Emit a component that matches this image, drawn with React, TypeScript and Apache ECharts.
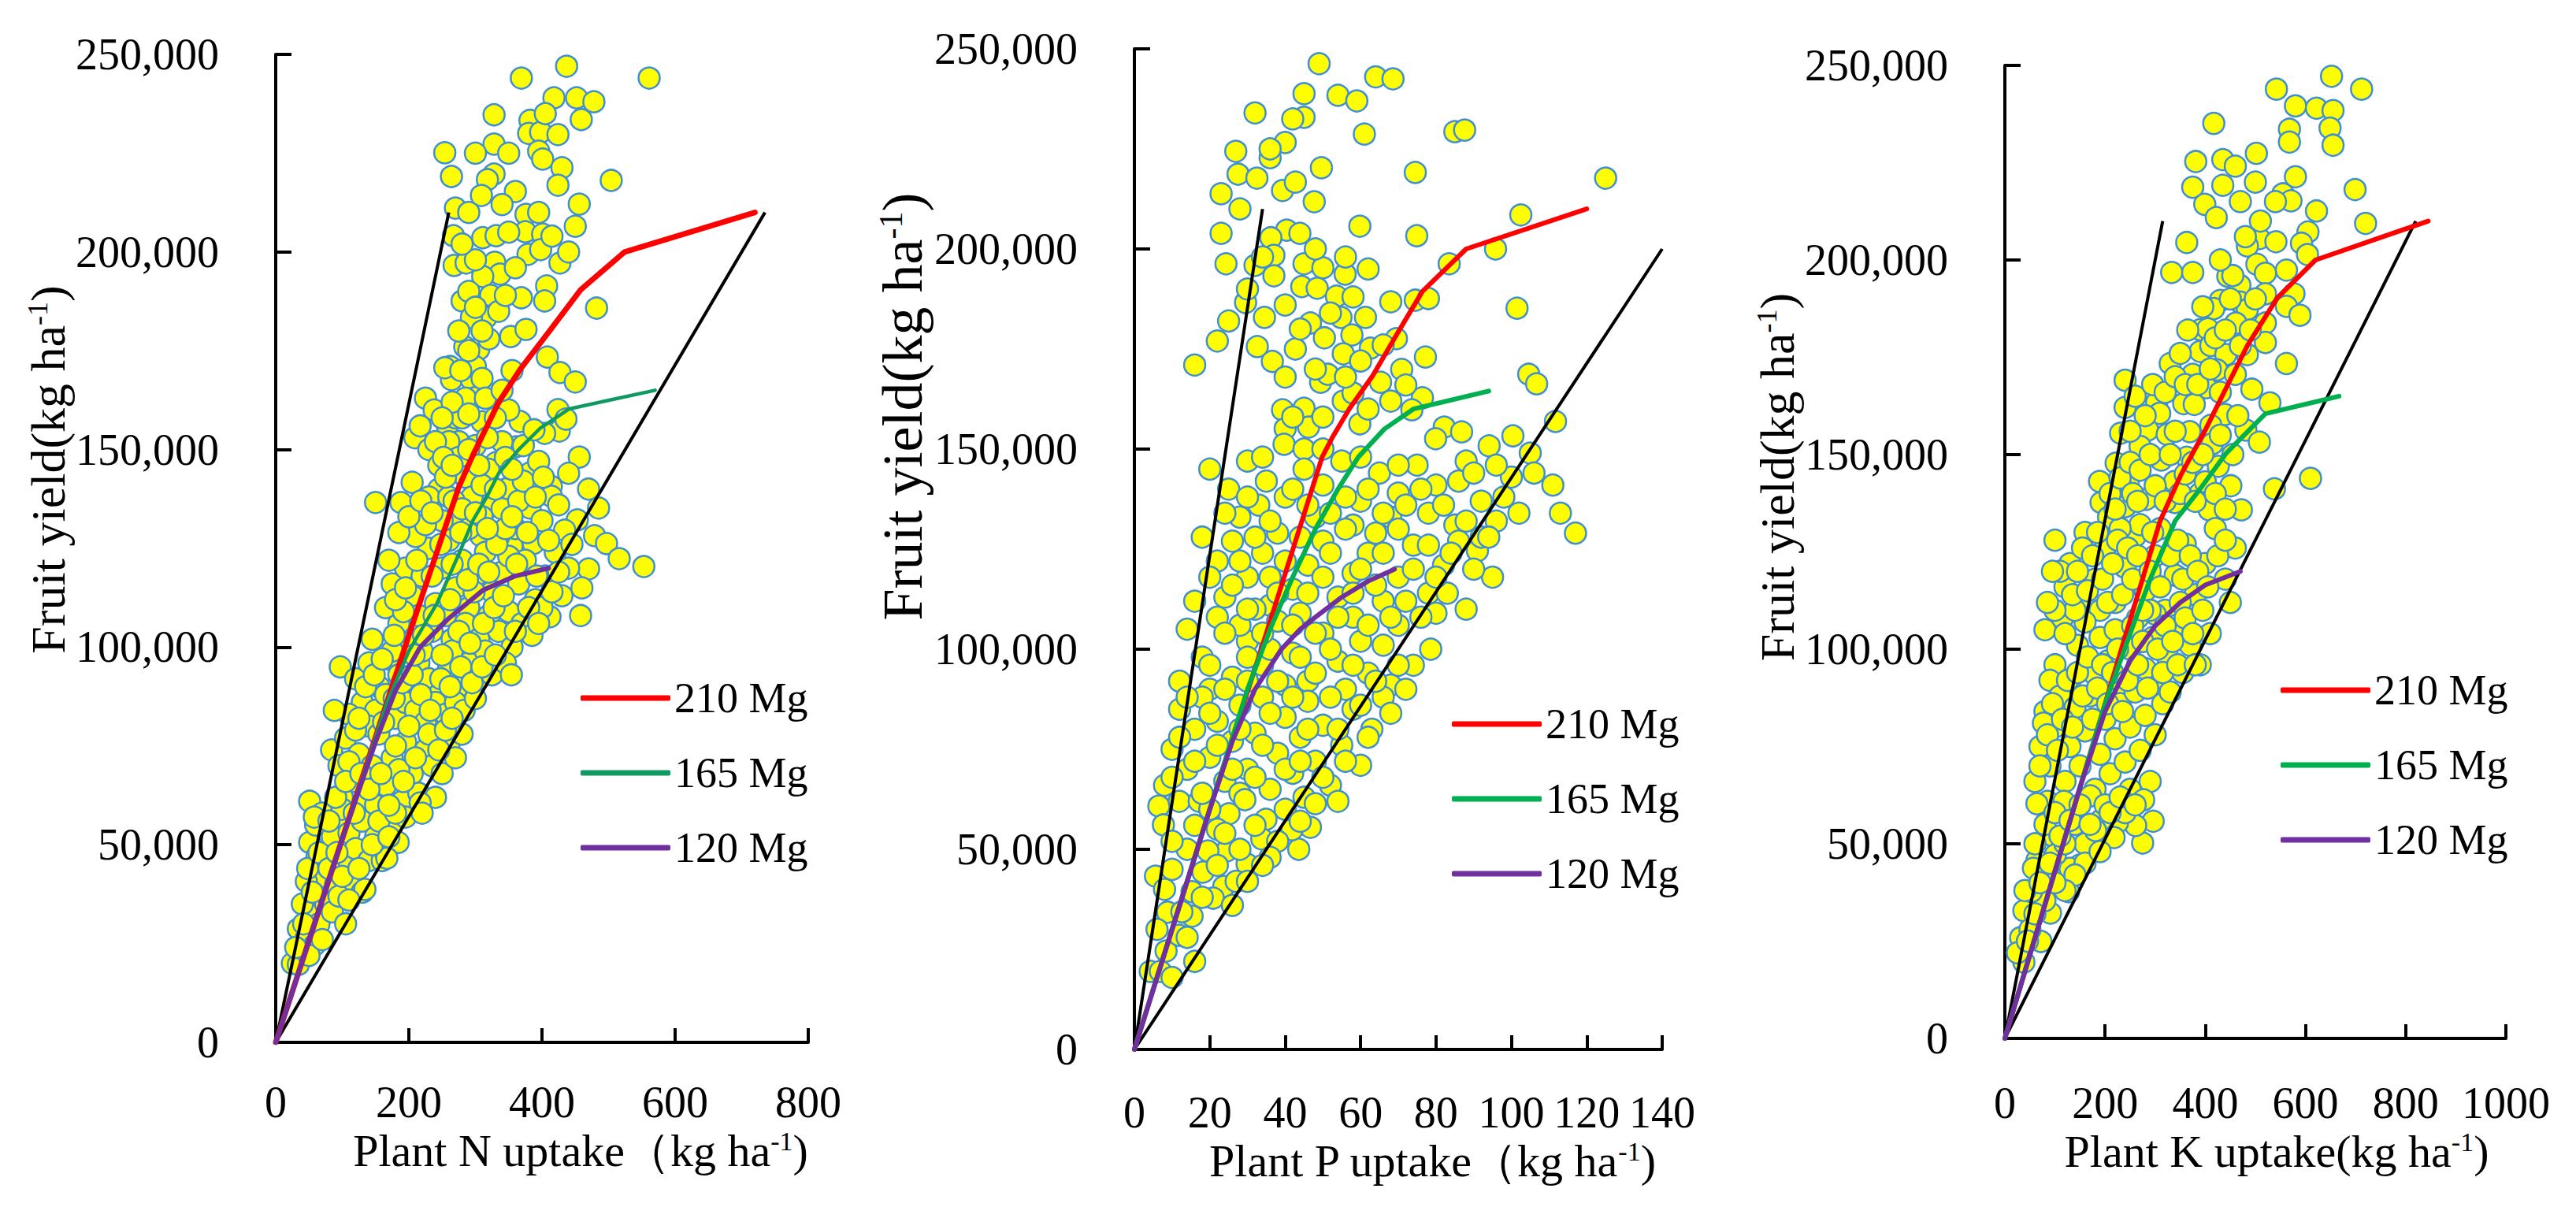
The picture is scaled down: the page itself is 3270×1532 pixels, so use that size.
import React, { useEffect, useRef } from 'react';
import * as echarts from 'echarts';

const FONT = "'Liberation Serif', 'Times New Roman', serif";

// ---------- axis ranges ----------
const yieldRange = { min: 0, max: 250000, interval: 50000 };
const nRange = { min: 0, max: 800, interval: 200 };
const pRange = { min: 0, max: 140, interval: 20 };
const kRange = { min: 0, max: 1000, interval: 200 };

const legendNames = ['210 Mg', '165 Mg', '120 Mg'];

// ---------- Panel 1: plant N uptake vs fruit yield ----------
const nScatter: [number, number][] = [
  [437, 247000], [369, 244000], [561, 244000], [418, 239000], [452, 239000], [478, 238000], [459, 233500], [328, 234700],
  [382, 233300], [380, 230000], [398, 230300], [424, 229700], [328, 227300], [395, 225500], [401, 223500], [430, 221300],
  [254, 225100], [264, 219100], [328, 219700], [318, 218300], [360, 215300], [424, 216900], [504, 218100], [309, 214300],
  [456, 212100], [270, 211100], [376, 209500], [450, 206500], [267, 204100], [311, 203600], [331, 204100], [375, 205100],
  [401, 204500], [379, 199400], [398, 200600], [427, 197200], [268, 196600], [286, 197200], [329, 197400], [337, 194400],
  [311, 193800], [482, 185800], [280, 187600], [323, 189000], [369, 188400], [407, 191400], [404, 187600], [316, 183400],
  [294, 183400], [353, 178600], [376, 180400], [284, 176000], [305, 175400], [408, 173400], [427, 169500], [450, 167100],
  [262, 171000], [264, 167700], [294, 167700], [254, 170700], [325, 162700], [299, 163100], [424, 160100], [426, 154700],
  [404, 154100], [436, 157700], [367, 157100], [225, 163000], [238, 160000], [209, 153000], [217, 156000], [258, 156000],
  [456, 148100], [361, 150700], [331, 146700], [382, 144100], [414, 140700], [347, 140100], [205, 141700], [485, 135200],
  [382, 135200], [414, 138200], [323, 135600], [453, 132200], [434, 129600], [479, 128200], [497, 126200], [355, 125600],
  [387, 126200], [308, 128200], [516, 122400], [553, 120400], [470, 119800], [458, 108000], [412, 107700], [150, 136600],
  [188, 136600], [275, 180000], [290, 190000], [300, 171000], [270, 158000], [285, 163000], [310, 168000], [320, 178000],
  [275, 152000], [230, 150000], [245, 146000], [260, 152000], [275, 148000], [285, 143000], [300, 151000], [310, 157000],
  [320, 145000], [340, 152000], [350, 160000], [280, 158000], [265, 162000], [245, 140000], [230, 138000], [260, 138000],
  [295, 138000], [310, 141000], [340, 135000], [365, 137000], [395, 147000], [400, 132000], [360, 130000], [335, 128000],
  [270, 131000], [250, 132000],
  [175, 116000], [195, 120000], [205, 113000], [220, 118000], [230, 125000], [240, 111000], [250, 120000], [260, 127000],
  [270, 115000], [280, 122000], [290, 110000], [300, 118000], [315, 124000], [325, 114000], [340, 119000], [350, 109000],
  [365, 116000], [375, 122000], [390, 112000], [405, 118000], [420, 124000], [430, 113000], [440, 120000], [185, 106000],
  [200, 101000], [215, 108000], [235, 104000], [255, 108000], [265, 102000], [285, 106000], [305, 102000], [320, 108000],
  [335, 104000], [355, 100000], [370, 106000], [385, 103000], [400, 110000], [165, 110000], [170, 122000], [210, 128000],
  [225, 131000], [290, 130000], [310, 133000], [185, 129000], [350, 123000],
  [97, 95000], [120, 92000], [140, 96000], [155, 90000], [170, 97000], [185, 93000], [200, 90000], [215, 96000],
  [230, 92000], [245, 88000], [260, 95000], [275, 90000], [290, 96000], [305, 92000], [325, 93000], [345, 96000],
  [354, 93000], [130, 86000], [150, 84000], [165, 88000], [180, 82000], [195, 86000], [210, 84000], [225, 81000],
  [240, 86000], [255, 83000], [270, 86000], [283, 84000], [300, 87000], [110, 83000], [88, 84000], [140, 80000],
  [175, 99000], [220, 99000], [265, 99000], [315, 99000],
  [84, 74000], [95, 70000], [105, 77000], [115, 66000], [125, 73000], [135, 62000], [145, 70000], [155, 78000],
  [165, 65000], [175, 72000], [190, 61000], [195, 76000], [205, 68000], [215, 63000], [225, 74000], [235, 70000],
  [250, 68000], [260, 75000], [270, 72000], [280, 78000], [100, 62000], [110, 71000], [150, 60000], [185, 69000],
  [240, 62000], [120, 79000], [230, 78000], [200, 80000],
  [51, 61000], [51, 50600], [60, 55000], [70, 58000], [75, 48000], [85, 52000], [95, 57000], [105, 45000],
  [110, 53000], [120, 49000], [130, 56000], [140, 46000], [150, 52000], [160, 46000], [165, 48000], [175, 55000],
  [184, 50600], [195, 57000], [70, 42000], [90, 40000], [115, 41000], [130, 38000], [134, 38700], [167, 46600],
  [62, 47000], [100, 59000], [217, 60600],
  [25, 20000], [34, 19700], [34, 28700], [46, 40700], [45, 26000], [59, 24700], [55, 32000], [65, 30000],
  [75, 35000], [85, 33000], [95, 37000], [40, 35000], [50, 22000], [110, 36000], [70, 26000], [105, 30000],
  [30, 24000], [42, 30000], [55, 38000], [48, 44000], [65, 48000], [80, 44000], [92, 48000], [100, 42000],
  [125, 44000], [145, 50000], [155, 56000], [170, 52000], [180, 58000], [58, 57000], [80, 56000], [90, 62000],
  [105, 66000], [118, 58000], [128, 68000], [140, 64000], [158, 68000], [170, 60000], [180, 75000], [192, 66000],
  [210, 72000], [220, 58000], [245, 74000], [255, 79000], [265, 82000], [125, 82000], [135, 90000], [148, 93000],
  [162, 81000], [178, 87000], [190, 91000], [205, 93000], [218, 88000], [232, 84000], [248, 92000], [262, 90000],
  [278, 95000], [295, 91000], [310, 95000], [330, 98000], [145, 102000], [160, 97000], [178, 103000], [192, 109000],
  [208, 98000], [222, 103000], [238, 108000], [250, 98000], [262, 112000], [275, 104000], [292, 101000], [298, 114000],
  [312, 106000], [328, 110000], [342, 113000], [360, 104000], [380, 110000], [395, 106000], [415, 114000], [180, 112000],
  [195, 115000], [212, 122000], [235, 118000], [248, 126000], [265, 121000], [278, 129000], [288, 117000], [305, 121000],
  [320, 119000], [332, 126000], [345, 130000], [362, 121000], [378, 129000], [392, 118000], [410, 127000], [425, 119000],
  [445, 126000], [460, 115000], [200, 133000], [218, 137000], [235, 134000], [255, 143000], [268, 137000], [280, 135000],
  [300, 134000], [318, 130000], [330, 140000], [355, 133000], [372, 142000], [390, 138000], [402, 143000], [425, 136000],
  [440, 144000], [470, 140000], [240, 152000], [252, 148000], [265, 146000], [290, 150000], [305, 146000], [318, 153000],
  [330, 158000], [345, 148000], [355, 145000], [372, 151000], [388, 155000], [250, 158000], [290, 159000], [315, 163000],
  [340, 165000], [355, 170000], [278, 170000], [290, 175000], [310, 180000], [335, 185000], [300, 186000], [345, 189000],
  [360, 196000], [300, 198000], [280, 202000], [350, 205000], [290, 210000], [340, 212000], [395, 210000], [415, 204000],
  [440, 200000], [350, 225000], [300, 225000], [405, 235000],
];
const nUpper: [number, number][] = [[0, 0], [260, 210000]];
const nLower: [number, number][] = [[0, 0], [735, 210000]];
const n210: [number, number][] = [[0, 0], [100, 51500], [200, 103000], [250, 128000], [275, 140500], [296, 148500], [335, 162000], [369, 170700], [414, 180600], [458, 190400], [524, 200000], [720, 210000]];
const n165: [number, number][] = [[0, 0], [100, 51500], [167, 86000], [200, 99000], [242, 111000], [275, 123500], [296, 132000], [317, 138000], [335, 144000], [365, 150000], [398, 155500], [441, 160300], [570, 165000]];
const n120: [number, number][] = [[0, 0], [100, 51500], [150, 76000], [180, 89000], [217, 100000], [258, 107000], [312, 114500], [360, 118000], [410, 120000]];

// ---------- Panel 2: plant P uptake vs fruit yield ----------
const pScatter: [number, number][] = [
  [49, 246300], [64, 243000], [68.6, 242500], [45, 238800], [54, 238400], [59, 237000], [32, 234000], [45, 232900],
  [42, 232500], [61, 228700], [85, 229300], [87.6, 229700], [26.9, 224400], [40, 226600], [36, 222800], [36, 225000],
  [27.5, 218700], [32.5, 217700], [49.6, 220300], [74.5, 219100], [125, 217700], [23, 213800], [39.3, 214600], [42.7, 216700],
  [47.7, 211800], [28, 210000], [102.5, 208500], [59.8, 205700], [74.9, 203300], [40.4, 204700], [43.9, 203900], [36.2, 202800],
  [23, 203900], [37, 198400], [24.3, 196300], [32, 195900], [45, 196300], [50, 195300], [55.9, 193700], [83.5, 196300],
  [95.8, 200000], [37, 193300], [44.4, 190600], [48.5, 190200], [53.6, 188200], [29.5, 186600], [34.5, 182900], [46.7, 181500],
  [50.4, 177800], [54.8, 182900], [57.7, 178500], [61.3, 182900], [68, 186800], [74.5, 187200], [78, 187600], [101.5, 185200],
  [32.6, 175600], [36.6, 171900], [42.7, 175000], [55.4, 173800], [62.6, 175200], [69.5, 177600], [77.2, 173000], [70.9, 169900],
  [65.3, 166700], [49.4, 166700], [51.3, 168700], [39.3, 159800], [45, 160200], [55.4, 162000], [76.4, 162800], [73.6, 159800],
  [104.6, 168700], [106.7, 166300], [111.7, 156900], [40, 155100], [46.2, 155500], [59.8, 156300], [82.2, 155500], [86.8, 154300],
  [79.9, 152600], [100.4, 153300], [94.1, 150800], [39.7, 151200], [45, 150000], [22, 177000], [16, 171000], [25, 182000],
  [20, 145000], [25, 140000], [30, 147000], [35, 142000], [40, 138000], [45, 145000], [50, 141000], [55, 147000],
  [60, 137000], [65, 144000], [70, 139000], [75, 146000], [80, 141000], [88, 147000], [92, 137000], [100, 143000],
  [105, 149000], [111, 141000], [113, 134000], [117, 129000], [28, 133000], [33, 136000], [48, 133000], [58, 131000],
  [68, 133000], [78, 134000], [85, 131000], [96, 132000],
  [18, 128000], [22, 122000], [26, 127000], [30, 118000], [34, 124000], [38, 129000], [42, 115000], [46, 121000],
  [50, 127000], [54, 113000], [58, 119000], [62, 124000], [66, 112000], [70, 118000], [74, 126000], [78, 114000],
  [82, 121000], [86, 127000], [91, 124600], [83, 114000], [95, 118000], [92, 128000], [88, 110000], [24, 113000],
  [36, 111000], [64, 129000],
  [14, 105000], [18, 98000], [22, 108000], [26, 93000], [30, 102000], [34, 96000], [38, 107000], [42, 99000],
  [46, 92000], [50, 104000], [54, 97000], [58, 108000], [62, 94000], [66, 101000], [70, 106000], [74, 96000],
  [78.6, 100000], [80, 109000], [12, 92000], [20, 90000], [32, 110000], [44, 109000], [56, 90000], [68, 91000],
  [40, 91000], [28, 106000],
  [8, 66000], [10, 75000], [12, 85000], [14, 70000], [16, 80000], [18, 88000], [20, 73000], [22, 82000],
  [24, 67000], [26, 77000], [28, 86000], [30, 70000], [32, 79000], [34, 88000], [36, 65000], [38, 74000],
  [40, 83000], [42, 69000], [44, 78000], [46, 87000], [48, 72000], [50, 81000], [52, 66000], [55, 76000],
  [58, 85000], [60, 71000], [63, 80000], [66, 88000], [54, 62000], [6.5, 60800], [28, 64000], [45, 63000],
  [48, 61400], [46.7, 55500], [43.6, 50000], [41.8, 54900], [34.9, 57500], [33.8, 52600], [29.3, 62400], [25.1, 58900],
  [24.5, 49600], [23.7, 40700], [29.9, 46300], [18.2, 44300], [15.3, 39400], [15.3, 33300], [8.8, 34300], [5.6, 43300],
  [7.7, 56100], [11.9, 62000], [17.2, 62000], [4.2, 19500], [6.9, 19500], [8.4, 24600], [11.9, 28500], [12.6, 34400],
  [20.9, 37800], [19.5, 49600], [38, 52000], [22, 55000], [14, 50000], [10, 45000], [27, 42000],
  [10, 52000], [16, 56000], [20, 60000], [24, 54000], [28, 50000], [32, 56000], [36, 48000], [40, 60000],
  [44, 57000], [18, 38000], [22, 46000], [26, 36000], [30, 42000], [34, 46000], [14, 28000], [8, 40000],
  [6, 30000], [16, 22000], [10, 18000],
  [10, 68000], [12, 78000], [16, 72000], [18, 64000], [20, 84000], [22, 76000], [24, 90000], [26, 70000],
  [28, 80000], [30, 92000], [32, 68000], [34, 76000], [36, 84000], [38, 92000], [40, 70000], [42, 88000],
  [44, 72000], [46, 80000], [48, 94000], [50, 68000], [52, 88000], [54, 80000], [56, 72000], [58, 96000],
  [60, 86000], [62, 78000], [64, 92000], [68, 84000], [70, 96000], [72, 90000], [30, 98000], [20, 96000],
  [14, 88000], [36, 100000], [44, 98000], [52, 100000], [60, 102000],
  [16, 112000], [20, 118000], [24, 104000], [26, 116000], [28, 122000], [30, 110000], [32, 128000], [34, 104000],
  [36, 118000], [38, 114000], [40, 122000], [42, 106000], [44, 128000], [46, 114000], [48, 104000], [50, 118000],
  [52, 124000], [54, 108000], [56, 130000], [58, 114000], [60, 120000], [62, 106000], [64, 116000], [66, 124000],
  [68, 108000], [70, 130000], [72, 112000], [74, 120000], [76, 108000], [78, 126000], [80, 118000], [84, 124000],
  [88, 132000], [90, 120000], [94, 128000], [98, 138000], [102, 134000], [106, 144000], [24, 134000], [30, 138000],
  [36, 132000], [42, 140000], [46, 136000], [52, 134000], [56, 138000], [62, 140000], [66, 134000], [72, 136000],
  [76, 140000], [82, 136000], [86, 142000], [90, 144000], [96, 146000], [34, 148000], [50, 150000], [60, 148000],
  [70, 146000],
  [42, 158000], [50, 158000], [58, 164000], [62, 160000], [68, 162000], [72, 166000], [48, 170000], [56, 168000],
  [60, 172000], [66, 176000], [40, 168000], [44, 180000], [52, 184000], [58, 188000], [40, 186000], [48, 200000],
  [56, 198000], [30, 190000], [34, 198000], [62, 195000],
];
const pUpper: [number, number][] = [[0, 0], [34, 210000]];
const pLower: [number, number][] = [[0, 0], [140, 200000]];
const p210: [number, number][] = [[0, 0], [20, 60000], [35, 104000], [49.8, 148000], [52.5, 152900], [57.1, 160200], [63.2, 168300], [69.5, 178500], [76.4, 189400], [88, 200000], [120, 210000]];
const p165: [number, number][] = [[0, 0], [20, 60000], [30, 90000], [36, 105000], [42, 118000], [48, 130000], [54, 140000], [59.4, 148000], [66.3, 155000], [74, 160000], [94, 164500]];
const p120: [number, number][] = [[0, 0], [20, 60000], [26, 77000], [32, 90000], [39, 100000], [44, 105000], [48, 108000], [55, 113000], [62, 117000], [69, 120000]];

// ---------- Panel 3: plant K uptake vs fruit yield ----------
const kScatter: [number, number][] = [
  [652, 247200], [542, 243900], [712, 243900], [580, 239600], [622, 239000], [655, 238400], [417, 235100], [568, 233600],
  [649, 233900], [568, 230300], [655, 229500], [502, 227400], [381, 225300], [435, 225800], [460, 224100], [375, 218700],
  [435, 219200], [580, 221400], [699, 218100], [555, 217000], [571, 215200], [399, 214300], [422, 210900], [622, 212600],
  [720, 209400], [605, 207200], [363, 204500], [508, 205500], [541, 204700], [484, 203600], [592, 204300], [604, 201400],
  [503, 198900], [333, 196800], [375, 196800], [445, 195800], [562, 197400], [520, 196600], [469, 193500], [520, 191300],
  [577, 191300], [562, 188100], [430, 189600], [417, 187500], [469, 189200], [484, 187300], [589, 185800], [461, 183800],
  [520, 183800], [390, 182100], [405, 182300], [520, 178800], [390, 176500], [411, 178000], [441, 175700], [484, 175700],
  [330, 173400], [562, 173400], [375, 170600], [423, 171800], [460, 170600], [493, 166800], [402, 167200], [430, 166000],
  [240, 169100], [529, 163300], [240, 162100], [303, 163300], [357, 163100], [378, 162900], [309, 160600], [439, 160300],
  [411, 157500], [481, 156300], [231, 155500], [285, 156300], [324, 155200], [369, 155900], [270, 152100], [414, 152800],
  [508, 153200], [222, 147800], [312, 148600], [363, 149300], [426, 147000], [189, 143100], [246, 142800], [339, 143100],
  [390, 140100], [451, 142000], [538, 141200], [610, 143900], [192, 137700], [240, 136600], [282, 138500], [339, 137700],
  [408, 135800], [472, 135800], [207, 133900],
  [100, 128000], [130, 122000], [160, 130000], [180, 118000], [200, 126000], [220, 112000], [240, 121000], [260, 129000],
  [280, 115000], [300, 124000], [320, 110000], [340, 119000], [360, 127000], [380, 114000], [400, 122000], [420, 131000],
  [440, 118000], [460, 126000], [150, 113000], [270, 132000], [310, 131000], [350, 112000], [230, 131000], [190, 110000],
  [120, 116000],
  [80, 105000], [100, 96000], [115, 108000], [130, 92000], [145, 101000], [160, 107000], [175, 94000], [190, 103000],
  [205, 97000], [220, 105000], [235, 91000], [250, 100000], [265, 108000], [280, 95000], [295, 103000], [310, 91000],
  [325, 98000], [340, 106000], [355, 94000], [370, 101000], [390, 96000], [410, 104000], [90, 92000], [140, 110000],
  [300, 109000],
  [60, 66000], [70, 75000], [80, 84000], [90, 70000], [100, 80000], [110, 88000], [120, 66000], [130, 75000],
  [140, 85000], [150, 70000], [160, 79000], [170, 88000], [180, 64000], [190, 73000], [200, 82000], [210, 68000],
  [220, 77000], [230, 86000], [240, 71000], [250, 80000], [260, 89000], [270, 74000], [280, 83000], [300, 78000],
  [315, 86000], [330, 89000], [290, 66000], [250, 64000], [77, 81000],
  [277, 61300], [296, 55800], [275, 50200], [261, 54700], [225, 55500], [218, 51600], [160, 50000], [149, 44500],
  [112, 41700], [64, 45700], [57, 43700], [91, 32200], [38, 32800], [31.5, 25900], [72, 24900], [38, 19600],
  [127, 37700], [130, 43700], [192, 56100], [85, 60900], [64, 60300], [118, 60900], [171, 62300], [181, 53400],
  [96, 52000], [80, 35400], [53, 37700], [101, 47200], [140, 55000], [200, 60000], [240, 58000], [120, 50000],
  [50, 28000], [25, 22000],
  [40, 38000], [60, 50000], [80, 55000], [100, 58000], [110, 52000], [130, 56000], [150, 60000], [160, 45000],
  [170, 55000], [140, 42000], [120, 38000], [100, 40000], [90, 45000], [70, 40000], [60, 32000], [45, 25000],
  [190, 48000], [210, 58000], [230, 62000], [260, 60000],
  [70, 70000], [85, 78000], [95, 86000], [105, 74000], [115, 82000], [125, 92000], [135, 80000], [145, 94000],
  [155, 88000], [165, 98000], [175, 82000], [185, 90000], [195, 96000], [205, 86000], [215, 94000], [225, 100000],
  [235, 84000], [245, 92000], [255, 106000], [265, 96000], [275, 102000], [285, 90000], [290, 110000], [305, 100000],
  [315, 94000], [320, 106000], [335, 102000], [345, 96000], [360, 108000], [375, 104000], [380, 96000], [395, 110000],
  [100, 110000], [110, 120000], [120, 104000], [135, 114000], [145, 120000], [155, 126000], [165, 115000], [175, 124000],
  [185, 130000], [195, 118000], [205, 112000], [215, 122000], [225, 128000], [235, 114000], [245, 126000], [255, 118000],
  [265, 124000], [275, 110000], [290, 120000], [295, 130000], [310, 116000], [330, 124000], [345, 128000], [355, 118000],
  [370, 124000], [385, 120000], [405, 116000], [425, 124000], [440, 128000], [450, 112000], [95, 120000], [85, 112000],
  [210, 140000], [220, 136000], [230, 144000], [250, 148000], [255, 140000], [265, 138000], [270, 146000], [290, 150000],
  [300, 142000], [320, 138000], [330, 150000], [340, 156000], [350, 140000], [360, 145000], [375, 148000], [380, 138000],
  [395, 150000], [400, 143000], [420, 140000], [430, 155000], [440, 136000], [455, 150000], [465, 160000], [250, 156000],
  [260, 165000], [280, 160000], [295, 168000], [320, 166000], [340, 170000], [350, 176000], [360, 168000], [365, 182000],
  [385, 168000], [395, 188000], [410, 172000], [420, 180000], [440, 182000], [450, 190000], [470, 178000], [490, 182000],
  [500, 190000], [455, 196000], [430, 200000], [480, 206000], [510, 210000], [540, 215000], [470, 215000], [500, 220000],
];
const kUpper: [number, number][] = [[0, 0], [315, 210000]];
const kLower: [number, number][] = [[0, 0], [820, 210000]];
const k210: [number, number][] = [[0, 0], [150, 64500], [250, 107500], [310, 133000], [351, 144700], [400, 156300], [442, 167200], [484, 178000], [544, 190300], [620, 200000], [845, 210000]];
const k165: [number, number][] = [[0, 0], [150, 64500], [200, 86000], [250, 104000], [290, 118000], [340, 133000], [387, 140700], [442, 150400], [520, 160500], [667, 165000]];
const k120: [number, number][] = [[0, 0], [150, 64500], [200, 84000], [250, 97000], [300, 106000], [350, 112000], [400, 116500], [470, 120000]];

// ---------- layout & style ----------
const panels = [
  {
    grid: { left: 350, top: 69, width: 676, height: 1254 },
    range: nRange,
    xTitle: '{t|Plant N uptake（kg ha}{s|-1}{t|)}',
    xShift: 98, xGap: 108, xLabelMargin: 48,
    yGap: 232, yShift: 200, yFont: 62,
    legend: { left: 732, top: 851 },
    scatter: nScatter, upper: nUpper, lower: nLower,
    curves: [n210, n165, n120],
    widths: [7, 4.5, 6],
    colors: ['#FF0000', '#109A62', '#7030A0'],
    name: 'N',
  },
  {
    grid: { left: 1440, top: 62, width: 670, height: 1270 },
    range: pRange,
    xTitle: '{t|Plant P uptake（kg ha}{s|-1}{t|)}',
    xShift: 86, xGap: 100, xLabelMargin: 52,
    yGap: 226, yShift: 362, yFont: 72,
    legend: { left: 1838, top: 884 },
    scatter: pScatter, upper: pUpper, lower: pLower,
    curves: [p210, p165, p120],
    widths: [6, 6, 6],
    colors: ['#FF0000', '#00B050', '#7030A0'],
    name: 'P',
  },
  {
    grid: { left: 2545, top: 83, width: 636, height: 1235 },
    range: kRange,
    xTitle: '{t|Plant K uptake(kg ha}{s|-1}{t|)}',
    xShift: 54, xGap: 114, xLabelMargin: 54,
    yGap: 246, yShift: 190, yFont: 62,
    legend: { left: 2890, top: 841 },
    scatter: kScatter, upper: kUpper, lower: kLower,
    curves: [k210, k165, k120],
    widths: [6, 6, 6],
    colors: ['#FF0000', '#00B050', '#7030A0'],
    name: 'K',
  },
];

function richStyle(size: number) {
  return {
    t: { fontFamily: FONT, fontSize: size, color: '#000' },
    s: { fontFamily: FONT, fontSize: Math.round(size * 0.58), color: '#000', verticalAlign: 'top' },
  };
}

function buildOption() {
  const axisLineStyle = { color: '#000', width: 4 };
  const grid = panels.map((p) => ({ ...p.grid, containLabel: false }));
  const xAxis = panels.map((p, i) => ({
    type: 'value',
    gridIndex: i,
    min: p.range.min,
    max: p.range.max,
    interval: p.range.interval,
    name: p.xTitle,
    nameLocation: 'middle',
    nameGap: p.xGap,
    nameTextStyle: { fontFamily: FONT, fontSize: 58, color: '#000', padding: [0, 0, 0, p.xShift], rich: richStyle(58) },
    axisLine: { show: true, lineStyle: axisLineStyle },
    axisTick: { show: true, inside: true, length: 18, lineStyle: axisLineStyle },
    axisLabel: { show: true, margin: p.xLabelMargin, fontFamily: FONT, fontSize: 56, color: '#000', formatter: (v: number) => String(v) },
    splitLine: { show: false },
  }));
  const yAxis = panels.map((p, i) => ({
    type: 'value',
    gridIndex: i,
    min: yieldRange.min,
    max: yieldRange.max,
    interval: yieldRange.interval,
    name: '{t|Fruit yield(kg ha}{s|-1}{t|)}',
    nameLocation: 'middle',
    nameRotate: 90,
    nameGap: p.yGap,
    nameTextStyle: { fontFamily: FONT, fontSize: p.yFont, color: '#000', padding: [0, 0, 0, p.yShift], rich: richStyle(p.yFont) },
    axisLine: { show: true, lineStyle: axisLineStyle },
    axisTick: { show: true, inside: true, length: 20, lineStyle: axisLineStyle },
    axisLabel: { show: true, margin: 72, fontFamily: FONT, fontSize: 56, color: '#000', formatter: (v: number) => v.toLocaleString('en-US') },
    splitLine: { show: false },
  }));

  const series: any[] = [];
  panels.forEach((p, i) => {
    series.push({
      type: 'scatter',
      name: `Observed ${p.name}`,
      xAxisIndex: i,
      yAxisIndex: i,
      data: p.scatter,
      symbol: 'circle',
      symbolSize: 27,
      itemStyle: { color: '#FFFF00', borderColor: '#3F8FD2', borderWidth: 2.5, opacity: 1 },
      silent: true,
      z: 2,
    });
    [p.upper, p.lower].forEach((b, j) => {
      series.push({
        type: 'line',
        name: `${p.name} boundary ${j === 0 ? 'upper' : 'lower'}`,
        xAxisIndex: i,
        yAxisIndex: i,
        data: b,
        symbol: 'none',
        lineStyle: { color: '#000', width: 4 },
        itemStyle: { color: '#000' },
        silent: true,
        z: 3,
      });
    });
    p.curves.forEach((c, j) => {
      series.push({
        type: 'line',
        name: legendNames[j],
        xAxisIndex: i,
        yAxisIndex: i,
        data: c,
        symbol: 'none',
        color: p.colors[j],
        lineStyle: { color: p.colors[j], width: p.widths[j], cap: 'round', join: 'round' },
        itemStyle: { color: p.colors[j] },
        silent: true,
        z: 4,
      });
    });
  });

  const legend = panels.map((p) => ({
    ...p.legend,
    orient: 'vertical',
    icon: 'roundRect',
    itemWidth: 114,
    itemHeight: 7,
    itemGap: 35,
    selectedMode: false,
    textStyle: { fontFamily: FONT, fontSize: 54, color: '#000', lineHeight: 60 },
    data: legendNames.map((n, j) => ({ name: n, itemStyle: { color: p.colors[j] } })),
  }));

  return {
    animation: false,
    backgroundColor: '#ffffff',
    textStyle: { fontFamily: FONT },
    grid,
    xAxis,
    yAxis,
    legend,
    series,
  };
}

export default function App() {
  const ref = useRef<HTMLDivElement>(null);
  useEffect(() => {
    document.body.style.margin = '0';
    if (!ref.current) return;
    const chart = echarts.init(ref.current, undefined, { renderer: 'svg' });
    chart.setOption(buildOption() as any);
    return () => {
      chart.dispose();
    };
  }, []);
  return <div ref={ref} style={{ width: '3270px', height: '1532px', background: '#fff' }} />;
}
